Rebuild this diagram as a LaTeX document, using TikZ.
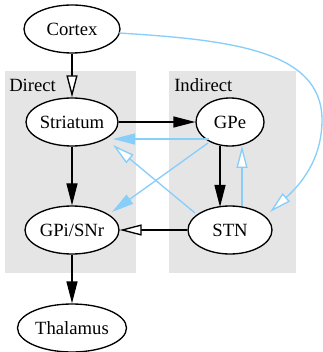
\documentclass[tikz,border=0pt]{standalone}
\usepackage{fontspec}
\setmainfont{Liberation Serif}
\usetikzlibrary{arrows.meta,shapes.geometric,backgrounds}
\definecolor{clustergray}{HTML}{E5E5E5}
\definecolor{skyblue}{HTML}{87CEFA}
\begin{document}
\begin{tikzpicture}[x=0.75pt,y=-0.75pt,
  region/.style={ellipse,draw=black,line width=1pt,fill=white,inner sep=0pt,
    minimum height=36pt,font=\fontsize{14}{16}\selectfont},
  cluster/.style={fill=clustergray,draw=none},
  lbl/.style={anchor=base west,inner sep=0pt,font=\fontsize{14}{16}\selectfont},
  solidarr/.style={draw=black,line width=1pt,-{Triangle[length=16.5pt,width=8.25pt]}},
  openarr/.style={draw=black,line width=1pt,-{Triangle[open,length=16.5pt,width=8.25pt,fill=white]}},
  bluesolid/.style={draw=skyblue,line width=1pt,-{Triangle[length=16.5pt,width=8.25pt]}},
  blueopen/.style={draw=skyblue,line width=1pt,-{Triangle[open,length=16.5pt,width=8.25pt,fill=white]}}
]
\useasboundingbox (0,0) rectangle (323,352);

\node[region, minimum width=72pt]    (cortex)   at (72,29)   {Cortex};
\node[region, minimum width=69pt]    (striatum) at (72,122)  {Striatum};
\node[region, minimum width=51pt]    (gpe)      at (230,122) {GPe};
\node[region, minimum width=70.5pt]  (gpi)      at (72,230)  {GPi/SNr};
\node[region, minimum width=63pt]    (stn)      at (230,230) {STN};
\node[region, minimum width=81.75pt] (thal)     at (72,328)  {Thalamus};

\begin{scope}[on background layer]
  \path[cluster] (5,71) rectangle (136,273);
  \path[cluster] (169,71) rectangle (296,273);
\end{scope}
\node[lbl] (directlbl) at (9,92) {Direct};
\node[lbl] (indirectlbl) at (174,92) {Indirect};

% black connections
\draw[openarr]  (cortex.south) -- (striatum.north);
\draw[solidarr] (striatum.east) -- (gpe.west);
\draw[solidarr] (striatum.south) -- (gpi.north);
\draw[solidarr] ([shift={(-10,24)}]gpe.center) -- ([shift={(-10,-23)}]stn.center);
\draw[openarr]  (stn.west) -- (gpi.east);
\draw[solidarr] (gpi.south) -- (thal.north);

% blue connections
\draw[bluesolid] ([shift={(-21,17)}]gpe.center) -- ([shift={(41,17)}]striatum.center);
\draw[bluesolid] ([shift={(-22,21)}]gpe.center) -- ([shift={(40,-18)}]gpi.center);
\draw[blueopen]  ([shift={(-35,-17)}]stn.center) -- ([shift={(41,23)}]striatum.center);
\draw[blueopen]  ([shift={(12,-24)}]stn.center) -- ([shift={(12,24)}]gpe.center);
\draw[blueopen]  ([shift={(47,4)}]cortex.center) .. controls (230,40) and (322,50) .. (322,120)
  .. controls (322,160) and (300,185) .. ([shift={(40,-18)}]stn.center);
\end{tikzpicture}
\end{document}
